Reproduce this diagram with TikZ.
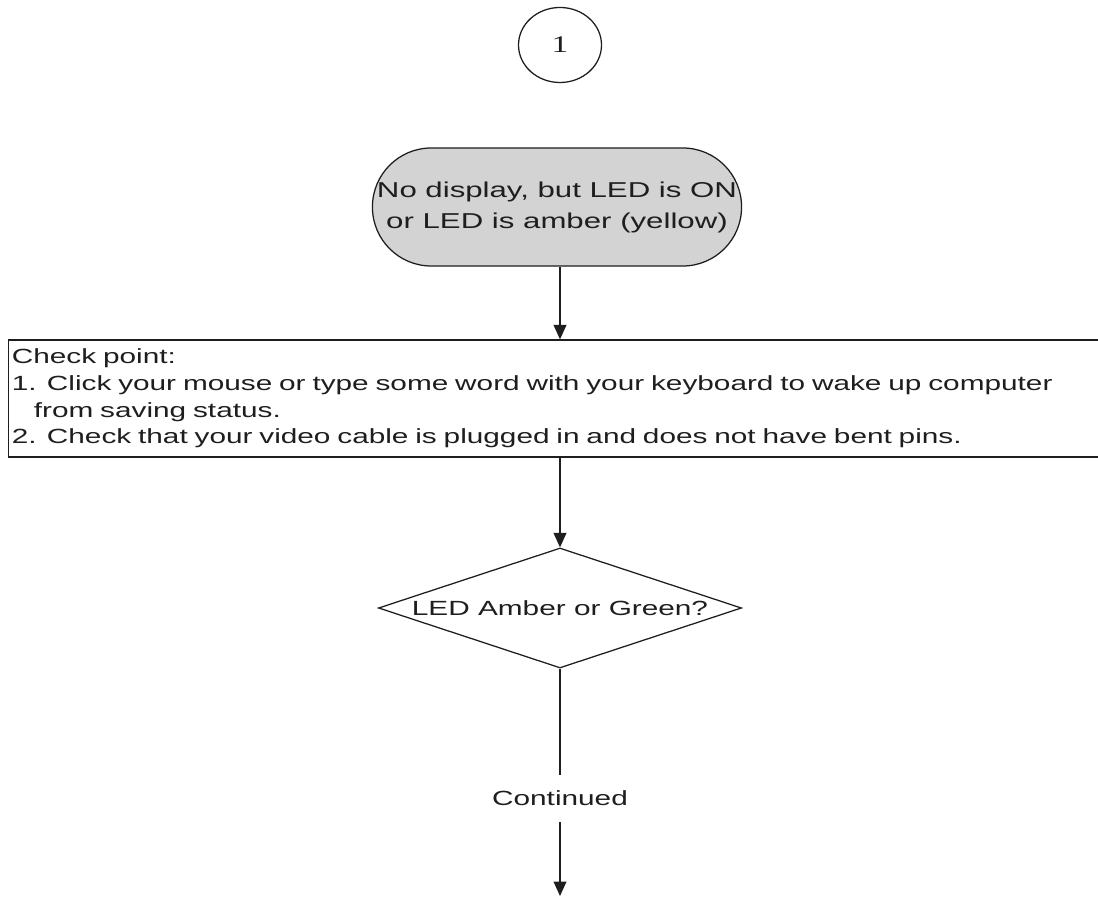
\documentclass[tikz,border=0pt]{standalone}
\usepackage{fontspec}
\usepackage{tikz}
\usetikzlibrary{
  positioning, arrows.meta, shapes.geometric,
}
\newfontfamily\flowfont{Liberation Sans}[FakeStretch=1.45]
\newfontfamily\markfont{Liberation Serif}[FakeStretch=1.4]
\definecolor{cInk} {HTML}{1E1E1E}
\definecolor{cTerm}{HTML}{D3D3D3}

\begin{document}
\begin{tikzpicture}[x=0.025cm, y=-0.025cm,
    conn/.style={-{Triangle[length=0.36cm, width=0.32cm]}, line width=0.9pt, draw=cInk},
    flowtext/.style={font=\flowfont\fontsize{14.6}{19}\selectfont, text=cInk},
  ]
  \useasboundingbox (0,0) rectangle (1098,898);
  \node[ellipse, draw=cInk, line width=0.9pt, minimum width=2.075cm, minimum height=1.875cm,
        inner sep=0pt, font=\markfont\fontsize{17}{20}\selectfont, text=cInk]
    (start) at (560,45) {1};
  \node[rectangle, rounded corners=1.47cm, fill=cTerm, draw=cInk, line width=0.9pt,
        minimum width=9.225cm, minimum height=2.95cm, inner xsep=0pt, align=center,
        font=\flowfont\fontsize{15.3}{22}\selectfont, text=cInk]
    (nodisp) at (557,207) {No display, but LED is ON\\or LED is amber (yellow)};
  \node[rectangle, draw=cInk, line width=0.9pt, flowtext, minimum width=27.225cm,
        minimum height=2.925cm, text width=27.075cm, inner xsep=0.075cm, align=left]
    (check) at (553.5,398.5) {Check point:\\
      1. Click your mouse or type some word with your keyboard to wake up computer\\
      \hspace*{0.55cm}from saving status.\\
      2. Check that your video cable is plugged in and does not have bent pins.};
  \node[diamond, draw=cInk, line width=0.9pt, flowtext, aspect=3.025,
        minimum width=9.075cm, minimum height=3cm, inner sep=0pt]
    (ledq) at (560,608) {LED Amber or Green?};
  \node[flowtext, inner sep=0pt, minimum height=1.175cm] (cont) at (560,798.5) {Continued};
  \coordinate (tail) at (560,896);
  \draw[conn] (nodisp.south -| ledq.north) -- (ledq.north |- check.north);
  \draw[conn] (check.south -| ledq.north) -- (ledq.north);
  \draw[line width=0.9pt, draw=cInk] (ledq.south) -- (cont.north);
  \draw[conn] (cont.south) -- (tail);
\end{tikzpicture}
\end{document}
